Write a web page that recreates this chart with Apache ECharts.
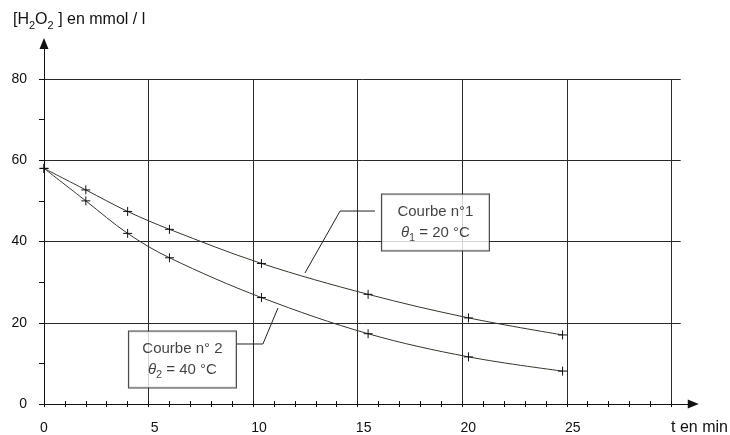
<!DOCTYPE html>
<html>
<head>
<meta charset="utf-8">
<script src="https://cdn.jsdelivr.net/npm/echarts@6/dist/echarts.min.js"></script>
<style>
html, body { margin: 0; padding: 0; background: #fff; }
#chart { width: 730px; height: 435px; }
</style>
</head>
<body>
<div id="chart"></div>
<script>
// t en min
const temps = [0, 2, 4, 6, 10.4, 15.5, 20.3, 24.8]
// [H2O2] en mmol / l
const courbe1 = [58, 52.7, 47.4, 43, 34.6, 27, 21.2, 17]
const courbe2 = [58, 50, 42, 36, 26.2, 17.3, 11.6, 8.1]

const xLabels = [0, 5, 10, 15, 20, 25]
const xTicks = [0, 1, 2, 3, 4, 5, 6, 7, 8, 9, 10, 11, 12, 13, 14, 15, 16, 17, 18, 19, 20, 21, 22, 23, 24, 25, 26, 27, 28, 29, 30]
const yLabels = [0, 20, 40, 60, 80]
const yTicks = [0, 10, 20, 30, 40, 50, 60, 70, 80]

// annotations (data coords)
const boite1 = [18.72, 44.68]
const boite2 = [6.62, 10.95]
const renvoi1 = [[15.83, 47.5], [14.16, 47.5], [12.48, 32.25]]
const renvoi2 = [[9.23, 14.77], [10.47, 14.77], [11.19, 23.63]]

const INK = "#111"
const FONT = "'Liberation Sans', Arial, sans-serif"
const X_PX = 20.91
const Y_PX = 4.0625
const LEFT = 44
const BOTTOM = 31

const gridFor = (xMax, yMax) => ({
	left: LEFT,
	bottom: BOTTOM,
	right: 730 - LEFT - xMax * X_PX,
	top: 435 - BOTTOM - yMax * Y_PX,
	outerBoundsMode: "none",
})

const hidden = {
	axisLine: { show: false },
	axisTick: { show: false },
	axisLabel: { show: false },
	splitLine: { show: false },
}

const pts = arr => temps.map((t, i) => [t, arr[i]])

const courbe = (name, arr) => ({
	name,
	type: "line",
	xAxisIndex: 0,
	yAxisIndex: 0,
	data: pts(arr),
	smooth: 0.35,
	symbol: "path://M0,5L10,5M5,0L5,10",
	symbolSize: 9,
	showSymbol: true,
	lineStyle: { color: "#35352d", width: 1 },
	itemStyle: { color: "#111", borderColor: "#111", borderWidth: 1 },
	silent: true,
	z: 5,
})

const renvoi = data => ({
	type: "line",
	xAxisIndex: 0,
	yAxisIndex: 0,
	data,
	symbol: "none",
	lineStyle: { color: "#222", width: 1 },
	silent: true,
	z: 6,
})

const chart = echarts.init(document.getElementById("chart"))
chart.setOption({
	animation: false,
	textStyle: { fontFamily: FONT },
	title: [
		{
			text: "[H{s|2}O{s|2} ] en mmol / l",
			left: 13,
			top: 9,
			padding: 0,
			textStyle: {
				fontSize: 16,
				fontWeight: "normal",
				color: INK,
				lineHeight: 22,
				fontFamily: FONT,
				rich: { s: { fontSize: 11, lineHeight: 11, verticalAlign: "bottom", color: INK, fontFamily: FONT } },
			},
		},
		{
			text: "t en min",
			left: 671,
			top: 419,
			padding: 0,
			textStyle: { fontSize: 16, fontWeight: "normal", color: INK, lineHeight: 17, fontFamily: FONT },
		},
	],
	grid: [gridFor(31.05, 88.74), gridFor(30.45, 80), gridFor(30, 80)],
	xAxis: [
		{
			gridIndex: 0,
			type: "value",
			min: 0,
			max: 31.05,
			axisLine: {
				show: true,
				symbol: ["none", "triangle"],
				symbolSize: [9, 11],
				lineStyle: { color: INK, width: 1 },
			},
			axisTick: { show: true, length: 3, customValues: xTicks, lineStyle: { color: INK } },
			axisLabel: {
				show: true,
				customValues: xLabels,
				margin: 17,
				fontSize: 14,
				color: INK,
				formatter: v => (v === 0 ? "0" : `{n|${v}}`),
				rich: { n: { fontSize: 14, color: INK, padding: [0, 0, 0, 12] } },
			},
			splitLine: { show: false },
		},
		{
			gridIndex: 1,
			type: "value",
			min: 0,
			max: 30.45,
			...hidden,
			axisTick: { show: true, inside: true, length: 3, customValues: xTicks, lineStyle: { color: INK } },
		},
		{
			gridIndex: 2,
			type: "value",
			min: 0,
			max: 30,
			interval: 5,
			...hidden,
			splitLine: { show: true, lineStyle: { color: "#2a2a2a", width: 1 } },
		},
	],
	yAxis: [
		{
			gridIndex: 0,
			type: "value",
			min: 0,
			max: 88.74,
			axisLine: {
				show: true,
				symbol: ["none", "triangle"],
				symbolSize: [9, 11],
				lineStyle: { color: INK, width: 1 },
			},
			axisTick: { show: true, length: 5, customValues: yTicks, lineStyle: { color: INK } },
			axisLabel: { show: true, customValues: yLabels, margin: 17, fontSize: 14, color: INK },
			splitLine: { show: false },
		},
		{
			gridIndex: 1,
			type: "value",
			min: 0,
			max: 80,
			interval: 20,
			...hidden,
			splitLine: { show: true, lineStyle: { color: "#2a2a2a", width: 1 } },
		},
		{ gridIndex: 2, type: "value", min: 0, max: 80, ...hidden },
	],
	series: [
		courbe("θ1 = 20 °C", courbe1),
		courbe("θ2 = 40 °C", courbe2),
		renvoi(renvoi1),
		renvoi(renvoi2),
		{
			type: "scatter",
			xAxisIndex: 0,
			yAxisIndex: 0,
			symbolSize: 0,
			silent: true,
			z: 10,
			label: {
				show: true,
				position: "inside",
				width: 107,
				padding: [7, 0],
				align: "center",
				verticalAlign: "middle",
				backgroundColor: "#fff",
				borderColor: "#111",
				borderWidth: 1,
				fontSize: 15,
				lineHeight: 21,
				color: INK,
				fontFamily: FONT,
				rich: {
					th: { fontStyle: "italic", fontSize: 15, lineHeight: 21, color: INK, fontFamily: FONT },
					s: { fontSize: 11, lineHeight: 11, verticalAlign: "bottom", color: INK, fontFamily: FONT },
				},
			},
			data: [
				{ value: boite1, label: { formatter: "Courbe n°1\n{th|θ}{s|1} = 20 °C" } },
				{ value: boite2, label: { formatter: "Courbe n° 2\n{th|θ}{s|2} = 40 °C" } },
			],
		},
	],
})
</script>
</body>
</html>
